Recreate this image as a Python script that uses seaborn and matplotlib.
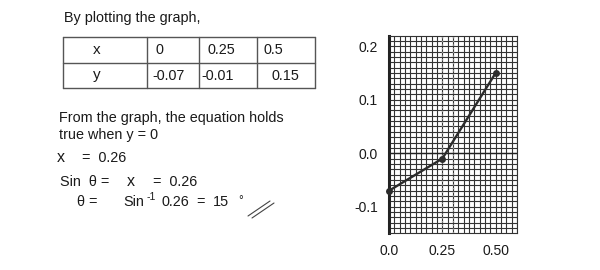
import matplotlib
matplotlib.use("Agg")
import matplotlib.pyplot as plt
import seaborn as sns
import pandas as pd
from matplotlib.ticker import MultipleLocator

# ---- data ----
x_values = [0.0, 0.25, 0.50]
y_values = [-0.07, -0.01, 0.15]
table_x_labels = ["0", "0.25", "0.5"]
table_y_labels = ["-0.07", "-0.01", "0.15"]
x_ticks = [0.0, 0.25, 0.50]
x_tick_labels = ["0.0", "0.25", "0.50"]
y_ticks = [-0.1, 0.0, 0.1, 0.2]
y_tick_labels = ["-0.1", "0.0", "0.1", "0.2"]

sns.set_style("white")
plt.rcParams['font.family'] = ['Liberation Sans', 'DejaVu Sans']
FS = 10.4
TXT = "#1a1a1a"

W, H = 600, 270
fig = plt.figure(figsize=(6.0, 2.7), dpi=100)
fig.patch.set_facecolor("white")

# overlay axes in pixel coordinates for the text part
ov = fig.add_axes([0, 0, 1, 1])
ov.set_xlim(0, W)
ov.set_ylim(H, 0)
ov.axis("off")
ov.patch.set_alpha(0)

def t(x, y, s, fs=FS, **kw):
    ov.text(x, y, s, fontsize=fs, color=TXT, va="center", ha=kw.pop("ha", "left"), **kw)

t(64, 18, "By plotting the graph,")

# table
col_edges = [63, 147, 199, 257, 315]
row_edges = [37, 63, 88]
cell_pad = [[0, 9, 9, 7], [0, 5, 2, 15]]
tcol = "#555555"
for xe in col_edges:
    ov.plot([xe, xe], [row_edges[0], row_edges[-1]], color=tcol, lw=1.0)
for ye in row_edges:
    ov.plot([col_edges[0], col_edges[-1]], [ye, ye], color=tcol, lw=1.0)
rows = [["x"] + table_x_labels, ["y"] + table_y_labels]
for r, row in enumerate(rows):
    yc = (row_edges[r] + row_edges[r + 1]) / 2
    for c, s in enumerate(row):
        if c == 0:
            t(97, yc, s, fs=11, ha="center")
        else:
            t(col_edges[c] + cell_pad[r][c], yc, s)

t(59, 118, "From the graph, the equation holds")
t(59, 135, "true when y = 0")
t(57, 157, "x", fs=11.5)
t(82, 158, "=  0.26")
t(60, 182, "Sin  θ =")
t(127, 181, "x", fs=11.5)
t(153, 182, "=  0.26")
t(77, 202, "θ =")
t(123, 202, "Sin")
t(147, 197, "-1", fs=7.5)
t(161, 202, "0.26")
t(196, 202, "=")
t(213, 202, "15")
t(238, 201, "°", fs=8.5)
ov.plot([248, 270], [216, 201], color="#444444", lw=0.8)
ov.plot([252, 274], [218, 203], color="#444444", lw=0.8)

# ---- chart ----
ax = fig.add_axes([389 / W, 1 - 233 / H, (517 - 389) / W, (233 - 36) / H])
ax.set_zorder(2)
df = pd.DataFrame({"x": x_values, "y": y_values})
ax.set_xlim(0, 0.6)
ax.set_ylim(-0.149, 0.219)
ax.xaxis.set_minor_locator(MultipleLocator(0.025))
ax.yaxis.set_minor_locator(MultipleLocator(0.01))
ax.set_xticks(x_ticks)
ax.set_xticklabels(x_tick_labels)
ax.set_yticks(y_ticks)
ax.set_yticklabels(y_tick_labels)
ax.grid(which="both", color="#333333", lw=0.8)
ax.set_axisbelow(True)
ax.axhline(0, color="#222222", lw=1.0, zorder=1.5)
for xv in [0.25, 0.30]:
    ax.axvline(xv, color="#9a9a9a", lw=1.0, ls=":", zorder=1.6)
sns.lineplot(data=df, x="x", y="y", ax=ax, color="#2b2b2b", lw=1.7,
             marker="o", markersize=5, markeredgewidth=0, clip_on=False, zorder=3)
ax.set_xlabel("")
ax.set_ylabel("")
ax.tick_params(axis="both", which="minor", length=0)
ax.tick_params(axis="both", which="major", length=0, labelsize=10, labelcolor=TXT, pad=8)
ax.tick_params(axis="y", which="major", length=4, width=1.5, direction="in", color="#222222")
for side in ["top", "right", "bottom"]:
    ax.spines[side].set_color("#333333")
    ax.spines[side].set_linewidth(0.8)
ax.spines["left"].set_color("#222222")
ax.spines["left"].set_linewidth(2.2)

fig.savefig("out.png", dpi=100, facecolor="white")
